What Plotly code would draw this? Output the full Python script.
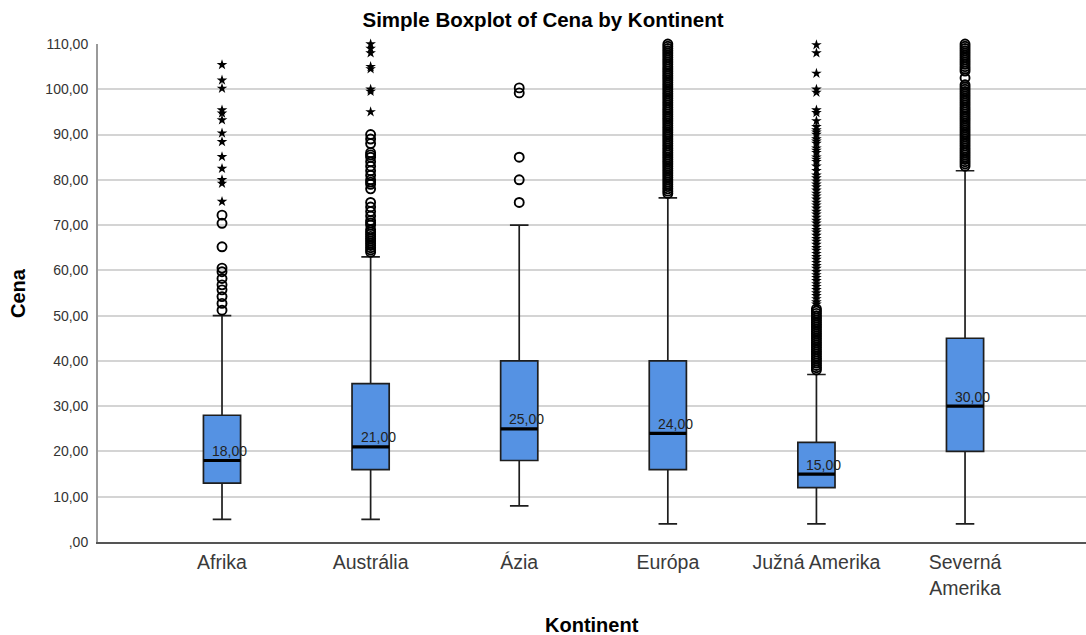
import plotly.graph_objects as go

# ---------------- data ----------------
categories = ["Afrika", "Austrália", "Ázia", "Európa", "Južná Amerika", "Severná<br>Amerika"]
q1 = [13, 16, 18, 16, 12, 20]
medians = [18, 21, 25, 24, 15, 30]
q3 = [28, 35, 40, 40, 22, 45]
lower_whisker = [5, 5, 8, 4, 4, 4]
upper_whisker = [50, 63, 70, 76, 37, 82]
median_labels = ["18,00", "21,00", "25,00", "24,00", "15,00", "30,00"]

y_tick_vals = [0, 10, 20, 30, 40, 50, 60, 70, 80, 90, 100, 110]
y_tick_text = [",00", "10,00", "20,00", "30,00", "40,00", "50,00", "60,00",
               "70,00", "80,00", "90,00", "100,00", "110,00"]

# outliers (circles) and extremes (stars), per category
afrika_out = [51.2, 52.7, 54.2, 55.7, 56.8, 58.2, 59.7, 60.5, 65.2, 70.4, 72.2]
afrika_ext = [75.2, 79.2, 80, 82.5, 85.1, 88.4, 90.3, 93.2, 94.7, 95.4, 100.2, 102, 105.4]

australia_out = [64, 64.5, 65, 65.5, 66, 66.5, 67, 67.5, 68, 68.5, 69, 70, 70.5, 71, 72,
                 73, 74, 75, 78, 79, 79.5, 80, 81, 82, 83, 84, 85, 85.5, 86, 88, 89, 90]
australia_ext = [95, 99.5, 100, 104.5, 105, 108, 109, 110]

azia_out = [75, 80, 85, 99.2, 100.3]
azia_ext = []

europa_out = [77, 77.5, 78, 78.5, 79, 79.5, 80, 80.5, 81, 81.5, 82, 82.5, 83, 83.5, 84,
              84.5, 85, 85.5, 86, 86.5, 87, 87.5, 88, 88.5, 89, 89.5, 90, 90.5, 91, 91.5,
              92, 92.5, 93, 93.5, 94, 94.5, 95, 95.5, 96, 96.5, 97, 97.5, 98, 98.5, 99,
              99.5, 100, 100.5, 101, 101.5, 102, 102.5, 103, 103.5, 104, 104.5, 105,
              105.5, 106, 106.5, 107, 107.5, 108, 108.5, 109, 109.5, 110, 110.5, 111]
europa_ext = []

juzna_out = [38, 38.5, 39, 39.5, 40, 40.5, 41, 41.5, 42, 42.5, 43, 43.5, 44, 44.5, 45,
             45.5, 46, 46.5, 47, 47.5, 48, 48.5, 49, 49.5, 50, 50.5, 51, 51.5]
juzna_ext = [52.5, 53, 53.7, 54.4, 55, 55.7, 56.4, 57, 57.7, 58.4, 59, 59.7, 60.4, 61,
             61.7, 62.4, 63, 63.7, 64.4, 65, 65.7, 66.4, 67, 67.7, 68.4, 69, 69.7, 70.4,
             71, 71.7, 72.4, 73, 73.7, 74.4, 75, 75.7, 76.4, 77, 77.7, 78.4, 79, 79.7,
             80.4, 81, 82, 83, 84, 84.5, 85, 86, 86.5, 87, 88, 88.5, 89, 90, 90.5, 91,
             91.7, 93, 94.8, 95.4, 99.3, 100, 103.5, 108, 109.8, 110.9]

severna_out = [83, 83.5, 84, 84.5, 85, 85.5, 86, 86.5, 87, 87.5, 88, 88.5, 89, 89.5, 90,
               90.5, 91, 91.5, 92, 92.5, 93, 93.5, 94, 94.5, 95, 95.5, 96, 96.5, 97,
               97.5, 98, 98.5, 99, 99.5, 100, 100.5, 101, 102.5, 104, 104.5, 105, 105.5,
               106, 106.5, 107, 107.5, 108, 108.5, 109, 109.5, 110, 110.5, 111]
severna_ext = []

outliers = [afrika_out, australia_out, azia_out, europa_out, juzna_out, severna_out]
extremes = [afrika_ext, australia_ext, azia_ext, europa_ext, juzna_ext, severna_ext]

# ---------------- style ----------------
FONT = "Liberation Sans, Arial, sans-serif"
BOX_FILL = "#5592E3"
BOX_WIDTH = 0.25

fig = go.Figure()
xpos = list(range(len(categories)))

fig.add_trace(go.Box(
    x=xpos, q1=q1, median=medians, q3=q3,
    lowerfence=lower_whisker, upperfence=upper_whisker,
    width=BOX_WIDTH, whiskerwidth=0.5,
    fillcolor=BOX_FILL,
    line=dict(color="#1e1e1e", width=1.7),
    boxpoints=False, showlegend=False, hoverinfo="skip",
))

# thick median lines
for i, m in enumerate(medians):
    fig.add_trace(go.Scatter(
        x=[i - BOX_WIDTH / 2, i + BOX_WIDTH / 2], y=[m, m],
        mode="lines", line=dict(color="black", width=3.2),
        showlegend=False, hoverinfo="skip",
    ))

# outlier circles and extreme stars
for i in xpos:
    if outliers[i]:
        fig.add_trace(go.Scatter(
            x=[i] * len(outliers[i]), y=outliers[i], mode="markers",
            marker=dict(symbol="circle-open", size=9, color="black",
                        line=dict(width=1.9, color="black")),
            cliponaxis=False, showlegend=False, hoverinfo="skip",
        ))
    if extremes[i]:
        fig.add_trace(go.Scatter(
            x=[i] * len(extremes[i]), y=extremes[i], mode="markers",
            marker=dict(symbol="star", size=8, color="black"),
            cliponaxis=False, showlegend=False, hoverinfo="skip",
        ))

# median value labels
for i, (m, t) in enumerate(zip(medians, median_labels)):
    fig.add_annotation(
        x=i + 0.05, y=m, text=t, showarrow=False, yshift=9.5,
        font=dict(family=FONT, size=14, color="#222222"),
    )

# axis titles
fig.add_annotation(
    xref="paper", yref="paper", x=0.5, y=0, yshift=-83,
    text="<b>Kontinent</b>", showarrow=False, yanchor="middle",
    font=dict(family=FONT, size=20, color="black"),
)
fig.add_annotation(
    xref="paper", yref="paper", x=0, xshift=-80, y=0.5,
    text="<b>Cena</b>", showarrow=False, textangle=-90, xanchor="center",
    font=dict(family=FONT, size=20, color="black"),
)

fig.update_layout(
    width=1086, height=635,
    margin=dict(l=98, r=0, t=44, b=93),
    paper_bgcolor="white", plot_bgcolor="white",
    title=dict(text="<b>Simple Boxplot of Cena by Kontinent</b>",
               x=0.5, xref="container", xanchor="center",
               y=1 - 20 / 635, yref="container", yanchor="middle",
               font=dict(family=FONT, size=20.5, color="black")),
    showlegend=False,
    font=dict(family=FONT),
)

fig.update_xaxes(
    range=[-0.8345, 5.814], tickvals=xpos, ticktext=categories,
    showgrid=False, zeroline=False,
    showline=True, linecolor="#555555", linewidth=1.5,
    ticks="", ticklabelstandoff=2,
    tickfont=dict(family=FONT, size=19.5, color="#3a3a3a"),
)
fig.update_yaxes(
    range=[0, 110], tickvals=y_tick_vals, ticktext=y_tick_text,
    showgrid=True, gridcolor="#D4D4D4", gridwidth=1.6, zeroline=False,
    showline=True, linecolor="#9A9A9A", linewidth=2,
    ticks="", ticklabelstandoff=5,
    tickfont=dict(family=FONT, size=14, color="#333333"),
)

fig.write_html("out.html")
